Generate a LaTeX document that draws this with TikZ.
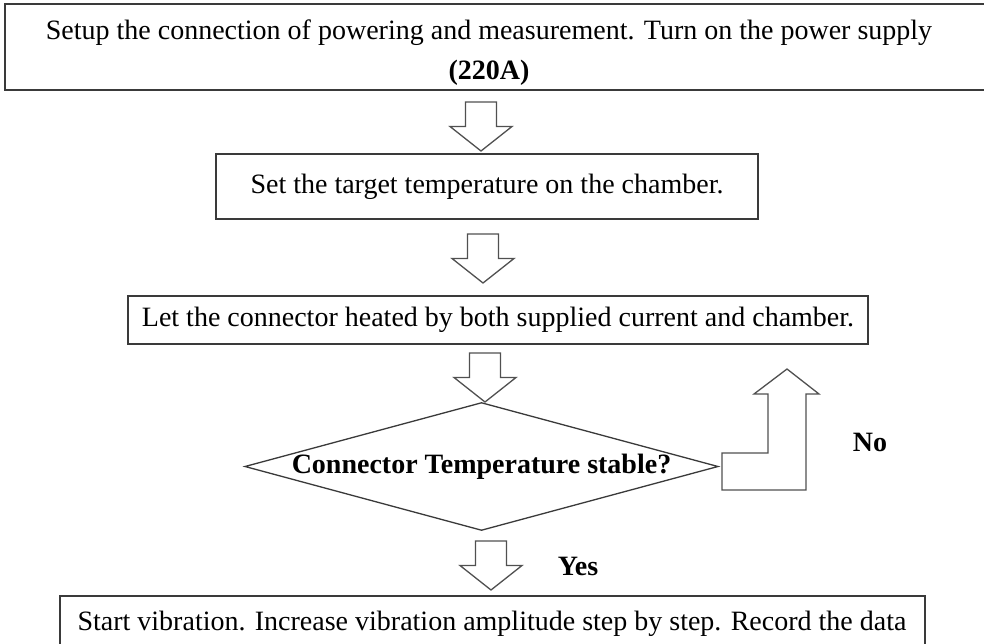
\documentclass[tikz,border=0pt]{standalone}
\usepackage{fontspec}
\setmainfont{Liberation Serif}
\usetikzlibrary{shapes.geometric}
\definecolor{edgegray}{HTML}{3A3A3A}
\definecolor{arrowgray}{HTML}{505050}
\newcommand\flowsize{\fontsize{28}{40}\selectfont}
\begin{document}
\begin{tikzpicture}[x=1pt,y=-1pt,
  stepbox/.style={draw=edgegray, line width=1.6pt, inner sep=0pt, align=center, font=\flowsize},
  plaintext/.style={inner sep=0pt, align=center, font=\flowsize},
  boldtext/.style={inner sep=0pt, font=\flowsize\bfseries},
  arrowline/.style={draw=arrowgray, line width=1.3pt, fill=white, line join=miter},
  pics/blockdown/.style={code={
    \draw[arrowline] (-15.5,-49) -- (15.5,-49) -- (15.5,-24.5) -- (31,-24.5)
      -- (0,0) -- (-31,-24.5) -- (-15.5,-24.5) -- cycle;}}
]
\clip (0,0) rectangle (984,644);
\fill[white] (0,0) rectangle (984,644);

% first step: box runs past the right border
\node[stepbox, minimum width=985, minimum height=86] (setup) at (497.5,47) {};
\node[plaintext] (setuptext) at (489,53)
  {Setup the connection of powering and measurement. Turn on the power supply\\\textbf{(220A)}};

\node[stepbox, minimum width=542, minimum height=65] (target) at (487,186.5)
  {Set the target temperature on the chamber.};

\node[stepbox, minimum width=740, minimum height=48] (heat) at (498,320)
  {Let the connector heated by both supplied current and chamber.};

\node[diamond, draw=edgegray, line width=1.3pt, inner sep=0pt, aspect=3.7,
      minimum width=473, minimum height=127, font=\flowsize\bfseries] (stable) at (481.5,466.5)
  {Connector Temperature stable?};

% last step: box runs past the bottom border
\node[stepbox, minimum width=865, minimum height=90] (vib) at (492.5,641) {};
\node[plaintext, anchor=base] (vibtext) at (492,630)
  {Start vibration. Increase vibration amplitude step by step. Record the data};

% block arrows between the steps
\coordinate (t1) at (481,151);
\coordinate (t2) at (483,283);
\coordinate (t3) at (485,402);
\coordinate (t4) at (491,590);
\pic at (t1) {blockdown};
\pic at (t2) {blockdown};
\pic at (t3) {blockdown};
\pic at (t4) {blockdown};

% loop-back arrow on the "No" branch
\draw[arrowline] (722,490) -- (722,453) -- (768,453) -- (768,394) -- (754,394)
  -- (787,369) -- (819,394) -- (806,394) -- (806,490) -- cycle;

\node[boldtext] (no) at (870,442) {No};
\node[boldtext] (yes) at (578,566) {Yes};
\end{tikzpicture}
\end{document}
